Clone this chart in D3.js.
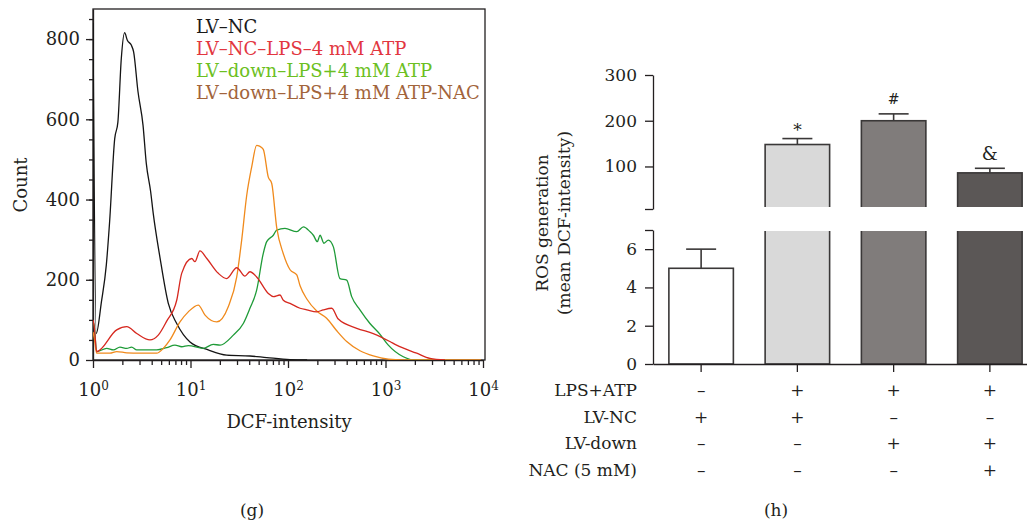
<!DOCTYPE html>
<html>
<head>
<meta charset="utf-8">
<script src="https://cdn.jsdelivr.net/npm/d3@7"></script>
<style>
  body { margin: 0; background: #fff; }
  svg { display: block; }
</style>
</head>
<body>
<svg width="1027" height="521"></svg>
<script>
// ---------- panel (g): DCF histograms, points are [intensity, count]
const lvNc = [[1.00, 840], [1.08, 66], [1.22, 145], [1.37, 237], [1.48, 344], [1.67, 552], [1.80, 593],
  [1.95, 751], [2.11, 816], [2.25, 797], [2.47, 785], [2.61, 768], [2.89, 670], [3.26, 585], [3.52, 490],
  [3.90, 420], [4.15, 365], [4.86, 256], [5.92, 141], [7.22, 91], [9.88, 45], [15.2, 25], [23.5, 12],
  [40.7, 10], [60.5, 6], [105, 1], [157, 0]];

const lvNcLps = [[1.00, 100], [1.03, 83], [1.09, 21], [1.75, 75], [2.22, 83], [2.81, 66], [3.84, 50],
  [4.67, 62], [5.70, 97], [7.22, 149], [8.12, 216], [10.3, 253], [11.1, 245], [12.5, 272], [14.7, 253],
  [19.3, 216], [23.5, 203], [29.8, 230], [36.2, 209], [40.7, 220], [47.7, 207], [62.8, 166], [70.7, 158],
  [82.8, 162], [89.5, 149], [105, 141], [133, 129], [156, 125], [197, 120], [230, 125], [281, 129],
  [328, 102], [507, 79], [749, 66], [1110, 46], [1300, 37], [2090, 17], [2860, 4], [4075, 0]];

const lvDownLps = [[1.00, 95], [1.03, 85], [1.09, 21], [1.38, 29], [1.62, 25], [1.89, 32], [2.22, 29],
  [2.49, 32], [2.81, 25], [4.50, 25], [5.70, 31], [6.93, 37], [8.12, 33], [9.49, 36], [13.5, 29],
  [17.1, 39], [20.1, 37], [27.5, 62], [34.8, 91], [40.7, 129], [47.7, 174], [55.8, 266], [60.5, 295],
  [70.7, 311], [76.6, 324], [93.1, 328], [123, 320], [144, 332], [168, 320], [182, 311], [200, 295],
  [213, 311], [234, 291], [259, 299], [292, 282], [341, 203], [400, 199], [450, 158], [547, 125],
  [693, 91], [879, 64], [1069, 37], [1523, 8], [1930, 0], [3000, 0]];

const lvDownLpsNac = [[1.00, 70], [1.03, 55], [1.09, 17], [1.49, 17], [1.75, 21], [2.22, 18], [3.03, 17],
  [4.50, 17], [5.26, 29], [6.16, 50], [7.80, 95], [9.49, 120], [12.0, 137], [14.1, 112], [18.6, 95],
  [24.4, 133], [29.8, 207], [33.5, 299], [37.7, 410], [42.4, 481], [47.7, 535], [51.0, 533], [55.8, 525],
  [62.8, 456], [68.1, 440], [76.6, 330], [89.5, 265], [105, 225], [123, 212], [133, 185], [156, 152],
  [197, 122], [249, 104], [316, 73], [400, 46], [547, 23], [749, 10], [1069, 2], [1500, 0], [9500, 0]];

const histNames = ["LV\u2013NC", "LV\u2013NC\u2013LPS\u20134 mM ATP", "LV\u2013down\u2013LPS+4 mM ATP",
  "LV\u2013down\u2013LPS+4 mM ATP-NAC"];
const histLineColors = ["#141414", "#d6281f", "#1f9b38", "#f08a1c"];
const histTextColors = ["#1a1a1a", "#e2363f", "#6cbf22", "#a2643b"];
const countTicks = [0, 200, 400, 600, 800];
const intensityTicks = [1, 10, 100, 1000, 10000];

// ---------- panel (h): ROS generation
const rosMeans = [5, 148, 200, 86];
const rosErrTop = [6, 161, 215, 96];
const rosMarks = ["", "*", "#", "&"];
const rosFills = ["#ffffff", "#d9d9d9", "#807c7b", "#5b5756"];
const upperTicks = [100, 200, 300];
const lowerTicks = [0, 2, 4, 6];
const rowLabels = ["LPS+ATP", "LV-NC", "LV-down", "NAC (5 mM)"];
const rowSigns = [
  ["\u2013", "+", "+", "+"],
  ["+", "+", "\u2013", "\u2013"],
  ["\u2013", "\u2013", "+", "+"],
  ["\u2013", "\u2013", "\u2013", "+"]
];

const ink = "#231f20";
const serif = "DejaVu Serif";
const svg = d3.select("svg");

svg.append("rect").attr("width", 1027).attr("height", 521).attr("fill", "#fff");

function styleAxis(g, size) {
  g.attr("font-family", serif)
    .attr("font-size", size)
    .attr("color", ink);
  g.selectAll("line, path").attr("stroke-width", 1.3);
}

// ===================== (g) histogram =====================
const hx = d3.scaleLog().domain([1, 10000]).range([93, 483]);
const hy = d3.scaleLinear().domain([0, 875]).range([360, 9]);

const gPanel = svg.append("g");

gPanel.append("defs").append("clipPath").attr("id", "histClip")
  .append("rect").attr("x", 93).attr("y", 9).attr("width", 392).attr("height", 351);

// minor y ticks every 50
gPanel.append("g")
  .attr("transform", "translate(93,0)")
  .call(d3.axisLeft(hy).tickValues(d3.range(50, 851, 50)).tickSize(4).tickSizeOuter(0).tickFormat(""))
  .call(g => g.select(".domain").remove())
  .call(g => styleAxis(g, 18));

gPanel.append("g")
  .attr("transform", "translate(93,0)")
  .call(d3.axisLeft(hy).tickValues(countTicks).tickSize(7).tickSizeOuter(0).tickPadding(6))
  .call(g => styleAxis(g, 18));

// minor x ticks 2..9 per decade
const minorX = [];
[1, 10, 100, 1000].forEach(p => d3.range(2, 10).forEach(m => minorX.push(m * p)));
gPanel.append("g")
  .attr("transform", "translate(0,360)")
  .call(d3.axisBottom(hx).tickValues(minorX).tickSize(5).tickSizeOuter(0).tickFormat(""))
  .call(g => g.select(".domain").remove())
  .call(g => styleAxis(g, 18));

const xAxis = gPanel.append("g")
  .attr("transform", "translate(0,360)")
  .call(d3.axisBottom(hx).tickValues(intensityTicks).tickSize(8).tickSizeOuter(0).tickPadding(15).tickFormat(d => d))
  .call(g => styleAxis(g, 18));

xAxis.selectAll(".tick text").each(function(d) {
  const t = d3.select(this).text("");
  t.append("tspan").text("10");
  t.append("tspan").attr("dy", "-0.5em").attr("font-size", 12).text(Math.round(Math.log10(d)));
});

// frame
gPanel.append("rect")
  .attr("x", 93).attr("y", 9).attr("width", 392).attr("height", 351)
  .attr("fill", "none").attr("stroke", ink).attr("stroke-width", 1.3);

const histLine = d3.line()
  .x(d => hx(d[0]))
  .y(d => hy(d[1]))
  .curve(d3.curveMonotoneX);

const histSeries = [lvNc, lvDownLps, lvDownLpsNac, lvNcLps];
const seriesColorIdx = [0, 2, 3, 1];
gPanel.append("g").attr("clip-path", "url(#histClip)")
  .selectAll("path")
  .data(histSeries)
  .enter()
  .append("path")
  .attr("d", histLine)
  .attr("fill", "none")
  .attr("stroke", (d, i) => histLineColors[seriesColorIdx[i]])
  .attr("stroke-width", 1.3)
  .attr("stroke-linejoin", "round");

// legend
gPanel.selectAll(".legend")
  .data(histNames)
  .enter()
  .append("text")
  .attr("class", "legend")
  .attr("x", 196)
  .attr("y", (d, i) => 33 + i * 22)
  .attr("font-family", serif)
  .attr("font-size", 18)
  .attr("fill", (d, i) => histTextColors[i])
  .text(d => d);

gPanel.append("text")
  .attr("transform", "translate(27,185) rotate(-90)")
  .attr("text-anchor", "middle")
  .attr("font-family", serif)
  .attr("font-size", 18)
  .attr("fill", ink)
  .text("Count");

gPanel.append("text")
  .attr("x", 289)
  .attr("y", 428)
  .attr("text-anchor", "middle")
  .attr("font-family", serif)
  .attr("font-size", 18)
  .attr("fill", ink)
  .text("DCF-intensity");

gPanel.append("text")
  .attr("x", 252)
  .attr("y", 516)
  .attr("text-anchor", "middle")
  .attr("font-family", serif)
  .attr("font-size", 17)
  .attr("fill", ink)
  .text("(g)");

// ===================== (h) bar chart with broken axis =====================
const hPanel = svg.append("g");

const bx = d3.scaleBand()
  .domain(d3.range(rosMeans.length))
  .range([653, 1038])
  .paddingInner(0.33)
  .paddingOuter(0.165);

const yTop = d3.scaleLinear().domain([7, 300]).range([209, 75]);
const yLow = d3.scaleLinear().domain([0, 7]).range([364, 230]);

const defs = hPanel.append("defs");
defs.append("clipPath").attr("id", "clipTop")
  .append("rect").attr("x", 600).attr("y", 0).attr("width", 427).attr("height", 207);
defs.append("clipPath").attr("id", "clipLow")
  .append("rect").attr("x", 600).attr("y", 231).attr("width", 427).attr("height", 140);

const barData = rosMeans.map((v, i) => ({ i: i, v: v, err: rosErrTop[i], mark: rosMarks[i], fill: rosFills[i] }));

hPanel.append("g").attr("clip-path", "url(#clipTop)")
  .selectAll("rect")
  .data(barData.filter(d => d.v > 7))
  .enter()
  .append("rect")
  .attr("x", d => bx(d.i))
  .attr("width", bx.bandwidth())
  .attr("y", d => yTop(d.v))
  .attr("height", d => 230 - yTop(d.v))
  .attr("fill", d => d.fill)
  .attr("stroke", "#3a3838")
  .attr("stroke-width", 1.6);

hPanel.append("g").attr("clip-path", "url(#clipLow)")
  .selectAll("rect")
  .data(barData)
  .enter()
  .append("rect")
  .attr("x", d => bx(d.i))
  .attr("width", bx.bandwidth())
  .attr("y", d => yLow(Math.min(d.v, 8.5)))
  .attr("height", d => 364 - yLow(Math.min(d.v, 8.5)))
  .attr("fill", d => d.fill)
  .attr("stroke", "#3a3838")
  .attr("stroke-width", 1.6);

// error bars
const yFor = v => (v > 7 ? yTop(v) : yLow(v));
const errG = hPanel.append("g").attr("stroke", "#3a3838").attr("stroke-width", 1.6);
barData.forEach(d => {
  const cx = bx(d.i) + bx.bandwidth() / 2;
  errG.append("line").attr("x1", cx).attr("x2", cx).attr("y1", yFor(d.v)).attr("y2", yFor(d.err));
  errG.append("line").attr("x1", cx - 15).attr("x2", cx + 15).attr("y1", yFor(d.err)).attr("y2", yFor(d.err));
});

// significance marks
const markLift = { "*": 3, "#": 10, "&": 8 };
const markSize = { "*": 17, "#": 14, "&": 18 };
hPanel.selectAll(".mark")
  .data(barData.filter(d => d.mark !== ""))
  .enter()
  .append("text")
  .attr("class", "mark")
  .attr("x", d => bx(d.i) + bx.bandwidth() / 2)
  .attr("y", d => yFor(d.err) - markLift[d.mark])
  .attr("text-anchor", "middle")
  .attr("font-family", serif)
  .attr("font-size", d => markSize[d.mark])
  .attr("fill", ink)
  .text(d => d.mark);

// axes
hPanel.append("g")
  .attr("transform", "translate(653,0)")
  .call(d3.axisLeft(yTop).tickValues([7].concat(upperTicks)).tickSize(8).tickSizeOuter(0).tickPadding(8)
    .tickFormat(d => (d === 7 ? "" : d)))
  .call(g => styleAxis(g, 17));

hPanel.append("g")
  .attr("transform", "translate(653,0)")
  .call(d3.axisLeft(yLow).tickValues(lowerTicks.concat([7])).tickSize(8).tickSizeOuter(0).tickPadding(8)
    .tickFormat(d => (d === 7 ? "" : d)))
  .call(g => styleAxis(g, 17));

hPanel.append("g")
  .attr("transform", "translate(0,364)")
  .call(d3.axisBottom(bx).tickSize(8).tickSizeOuter(0).tickFormat(""))
  .call(g => styleAxis(g, 17));

// y title (two lines)
const yTitle = ["ROS generation", "(mean DCF-intensity)"];
hPanel.selectAll(".ytitle")
  .data(yTitle)
  .enter()
  .append("text")
  .attr("class", "ytitle")
  .attr("transform", (d, i) => `translate(${548 + i * 22},223) rotate(-90)`)
  .attr("text-anchor", "middle")
  .attr("font-family", serif)
  .attr("font-size", 17)
  .attr("fill", ink)
  .text(d => d);

// treatment table
rowLabels.forEach((label, r) => {
  const yy = 396 + r * 26.7;
  hPanel.append("text")
    .attr("x", 637)
    .attr("y", yy)
    .attr("text-anchor", "end")
    .attr("font-family", serif)
    .attr("font-size", 17)
    .attr("fill", ink)
    .text(label);

  hPanel.selectAll(".sign-" + r)
    .data(rowSigns[r])
    .enter()
    .append("text")
    .attr("class", "sign-" + r)
    .attr("x", (d, i) => bx(i) + bx.bandwidth() / 2)
    .attr("y", yy)
    .attr("text-anchor", "middle")
    .attr("font-family", serif)
    .attr("font-size", 17)
    .attr("fill", ink)
    .text(d => d);
});

hPanel.append("text")
  .attr("x", 776)
  .attr("y", 516)
  .attr("text-anchor", "middle")
  .attr("font-family", serif)
  .attr("font-size", 17)
  .attr("fill", ink)
  .text("(h)");
</script>
</body>
</html>
